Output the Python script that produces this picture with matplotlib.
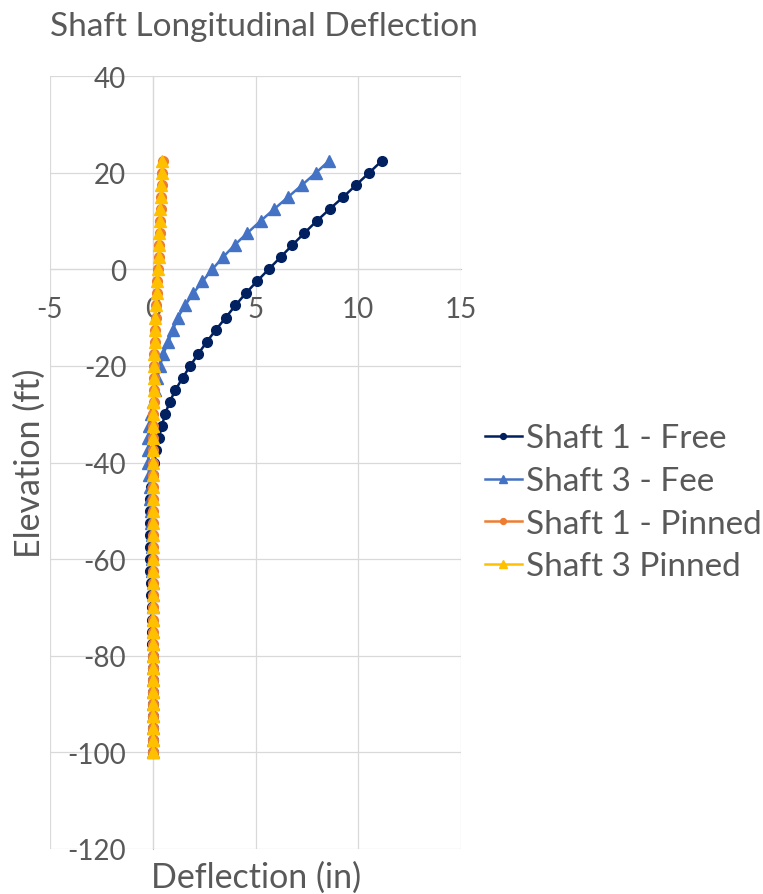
import numpy as np
import matplotlib
matplotlib.use('Agg')
import matplotlib.pyplot as plt

plt.rcParams['font.family'] = ['Lato', 'DejaVu Sans']
plt.rcParams['axes.unicode_minus'] = False

# Elevation of each node (ft)
elevation = [22.5, 20, 17.5, 15, 12.5, 10, 7.5, 5, 2.5, 0,
             -2.5, -5, -7.5, -10, -12.5, -15, -17.5, -20, -22.5, -25,
             -27.5, -30, -32.5, -35, -37.5, -40, -42.5, -45, -47.5, -50,
             -52.5, -55, -57.5, -60, -62.5, -65, -67.5, -70, -72.5, -75,
             -77.5, -80, -82.5, -85, -87.5, -90, -92.5, -95, -97.5, -100]

# Deflection (in)
shaft1_free = [11.16, 10.54, 9.91, 9.28, 8.62, 7.98, 7.38, 6.79, 6.22, 5.64,
               5.07, 4.52, 4.02, 3.55, 3.08, 2.63, 2.22, 1.82, 1.45, 1.10,
               0.82, 0.60, 0.44, 0.30, 0.17, 0.07, -0.01, -0.07, -0.11, -0.13,
               -0.14, -0.14, -0.14, -0.13, -0.12, -0.10, -0.08, -0.06, -0.04, -0.03,
               -0.02, -0.01, -0.01, 0.0, 0.0, 0.0, 0.0, 0.0, 0.0, 0.0]
shaft3_free = [8.59, 7.95, 7.28, 6.60, 5.92, 5.25, 4.60, 3.98, 3.42, 2.90,
               2.42, 1.97, 1.57, 1.22, 0.98, 0.76, 0.52, 0.35, 0.22, 0.10,
               0.00, -0.09, -0.16, -0.21, -0.22, -0.21, -0.18, -0.15, -0.12, -0.09,
               -0.07, -0.05, -0.04, -0.03, -0.02, -0.01, -0.01, 0.0, 0.0, 0.0,
               0.0, 0.0, 0.0, 0.0, 0.0, 0.0, 0.0, 0.0, 0.0, 0.0]
shaft1_pinned = [0.49, 0.46, 0.43, 0.40, 0.38, 0.36, 0.33, 0.31, 0.29, 0.26,
                 0.23, 0.20, 0.17, 0.14, 0.12, 0.10, 0.08, 0.07, 0.06, 0.05,
                 0.04, 0.03, 0.03, 0.02, 0.02, 0.01, 0.01, 0.01, 0.01, 0.0,
                 0.0, 0.0, 0.0, 0.0, 0.0, 0.0, 0.0, 0.0, 0.0, 0.0,
                 0.0, 0.0, 0.0, 0.0, 0.0, 0.0, 0.0, 0.0, 0.0, 0.0]
shaft3_pinned = [0.46, 0.43, 0.40, 0.38, 0.36, 0.34, 0.32, 0.30, 0.28, 0.25,
                 0.22, 0.19, 0.16, 0.13, 0.11, 0.09, 0.07, 0.06, 0.05, 0.04,
                 0.03, 0.03, 0.02, 0.02, 0.01, 0.01, 0.01, 0.01, 0.0, 0.0,
                 0.0, 0.0, 0.0, 0.0, 0.0, 0.0, 0.0, 0.0, 0.0, 0.0,
                 0.0, 0.0, 0.0, 0.0, 0.0, 0.0, 0.0, 0.0, 0.0, 0.0]

x_ticks = [-5, 0, 5, 10, 15]
y_ticks = [40, 20, 0, -20, -40, -60, -80, -100, -120]

text_gray = '#595959'

fig = plt.figure(figsize=(7.63, 8.95), dpi=100)
ax = fig.add_axes([50 / 763, 1 - 850 / 895, 411 / 763, 773 / 895])

ax.plot(shaft1_free, elevation, color='#002060', marker='o', ms=7, lw=1.8, label='Shaft 1 - Free')
ax.plot(shaft3_free, elevation, color='#4472C4', marker='^', ms=8.5, lw=1.8, label='Shaft 3 - Fee')
ax.plot(shaft1_pinned, elevation, color='#ED7D31', marker='o', ms=7, lw=1.8, label='Shaft 1 - Pinned')
ax.plot(shaft3_pinned, elevation, color='#FFC000', marker='^', ms=8.5, lw=1.8, label='Shaft 3 Pinned')

ax.set_xlim(-5, 15)
ax.set_ylim(-120, 40)
ax.set_xticks(x_ticks)
ax.set_yticks(y_ticks)
ax.grid(True, color='#D9D9D9', lw=0.9)
ax.set_axisbelow(True)

for side in ['top', 'right']:
    ax.spines[side].set_visible(False)
ax.spines['left'].set_position(('data', 0))
ax.spines['bottom'].set_position(('data', 0))
ax.spines['left'].set_color('#BFBFBF')
ax.spines['bottom'].set_color('#BFBFBF')
ax.spines['left'].set_zorder(0.5)
ax.spines['bottom'].set_zorder(0.5)
ax.tick_params(length=0, labelsize=20, labelcolor=text_gray, pad=19)

fig.text(50 / 763, 1 - 27 / 895, 'Shaft Longitudinal Deflection', fontsize=24,
         color=text_gray, va='center', ha='left')
fig.text(256 / 763, 1 - 878 / 895, 'Deflection (in)', fontsize=24.5,
         color=text_gray, va='center', ha='center')
fig.text(30 / 763, 1 - 463 / 895, 'Elevation (ft)', fontsize=24.5,
         color=text_gray, va='center', ha='center', rotation=90)

leg = fig.legend(loc='center left', bbox_to_anchor=(485 / 763, 1 - 503.5 / 895),
                 frameon=False, fontsize=24, borderpad=0, borderaxespad=0,
                 handlelength=1.1, handletextpad=0.12, labelspacing=0.38,
                 markerscale=0.6)
for t in leg.get_texts():
    t.set_color(text_gray)

plt.savefig('out.png', dpi=100)
